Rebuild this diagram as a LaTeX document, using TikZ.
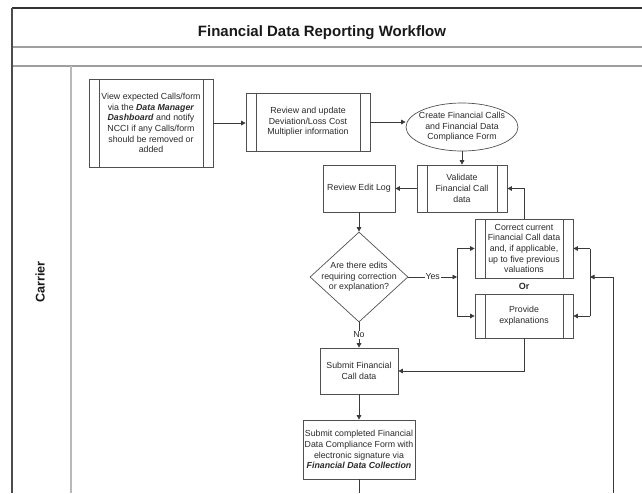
\documentclass[tikz,border=0pt]{standalone}
\usepackage{fontspec}
\setmainfont{Liberation Sans}
\usetikzlibrary{arrows.meta,shapes.geometric}
\definecolor{boxc}{HTML}{505050}
\definecolor{linec}{HTML}{3A3A3A}
\definecolor{txtc}{HTML}{2A2A2A}
\begin{document}
\begin{tikzpicture}[x=1pt,y=-1pt,
  every node/.style={font=\fontsize{8.8}{10.7}\selectfont, text=txtc},
  plain/.style={draw=boxc, line width=0.7pt, inner sep=0pt, align=center, fill=white},
  proc/.style={plain, path picture={\draw[boxc,line width=0.7pt]
     ([xshift=10pt]path picture bounding box.north west) -- ([xshift=10pt]path picture bounding box.south west)
     ([xshift=-10pt]path picture bounding box.north east) -- ([xshift=-10pt]path picture bounding box.south east);}},
  conn/.style={draw=linec, line width=0.7pt},
  arr/.style={conn, -{Triangle[length=4.5pt,width=4.5pt]}},
  lbl/.style={fill=white, inner sep=1pt},
  frameline/.style={line width=1.1pt}
]
\useasboundingbox (0,0) rectangle (642,493);

% frame
\draw[frameline, black!80] (12,8) -- (642,8);
\draw[frameline, gray!75] (12,47) -- (642,47);
\draw[frameline, gray!75] (12,66) -- (642,66);
\draw[frameline, black!70] (12,8) -- (12,493);
\draw[frameline, gray!55] (71,66) -- (71,493);

\node[font=\fontsize{15}{17}\selectfont\bfseries, text=black!90] (title) at (322,33) {Financial Data Reporting Workflow};
\node[font=\fontsize{12.6}{14}\selectfont\bfseries, text=black!90, rotate=90] (lane) at (40,282) {Carrier};

% nodes
\node[proc, minimum width=124pt, minimum height=88pt] (view) at (151,123)
  {View expected Calls/form\\via the \textbf{\textit{Data Manager}}\\\textbf{\textit{Dashboard}} and notify\\NCCI if any Calls/form\\should be removed or\\added};
\node[proc, minimum width=124pt, minimum height=58pt] (review) at (308,122)
  {Review and update\\Deviation/Loss Cost\\Multiplier information};
\node[draw=boxc, line width=0.7pt, ellipse, inner sep=0pt, minimum width=112pt, minimum height=48pt,
  label={[align=center]center:Create Financial Calls\\and Financial Data\\Compliance Form}] (create) at (462,127) {};
\node[proc, minimum width=90pt, minimum height=47pt] (validate) at (462,188.5)
  {Validate\\Financial Call\\data};
\node[plain, minimum width=72pt, minimum height=47pt] (editlog) at (359,188.5) {Review Edit Log};
\node[draw=boxc, line width=0.7pt, diamond, inner sep=0pt, minimum width=98pt, minimum height=90pt,
  label={[align=center]center:Are there edits\\requiring correction\\or explanation?}] (dia) at (359,277) {};
\node[proc, minimum width=98pt, minimum height=59pt] (correct) at (524,248.5)
  {Correct current\\Financial Call data\\and, if applicable,\\up to five previous\\valuations};
\node[font=\fontsize{9}{10}\selectfont\bfseries] (or) at (524,286) {Or};
\node[proc, minimum width=98pt, minimum height=44pt] (provide) at (524,316)
  {Provide\\explanations};
\node[plain, minimum width=78pt, minimum height=46pt] (submit) at (359,371)
  {Submit Financial\\Call data};
\node[plain, minimum width=112pt, minimum height=59pt] (complete) at (359,449.5)
  {Submit completed Financial\\Data Compliance Form with\\electronic signature via\\\textbf{\textit{Financial Data Collection}}};

\coordinate (jl) at (457,277);
\coordinate (jr) at (590,277);
\coordinate (far) at (613,493);
\coordinate (bot) at (359,493);

% connectors
\draw[arr] (view.east) -- (view.east -| review.west);
\draw[arr] (review.east) -- (review.east -| create.west);
\draw[arr] (create.south) -- (validate.north);
\draw[arr] (validate.west) -- (editlog.east);
\draw[arr] (editlog.south) -- (dia.north);
\draw[arr] (dia.east) -- node[lbl] (yes) {Yes} (jl);
\draw[conn] (jl |- correct.west) -- (jl |- provide.west);
\draw[arr] (jl |- correct.west) -- (correct.west);
\draw[arr] (jl |- provide.west) -- (provide.west);
\draw[arr] (correct.north) |- (validate.east);
\draw[conn] (jr |- correct.east) -- (jr |- provide.east);
\draw[arr] (jr |- correct.east) -- (correct.east);
\draw[arr] (jr |- provide.east) -- (provide.east);
\draw[arr] (far) |- (jr);
\draw[arr] (dia.south) -- node[lbl] (no) {No} (submit.north);
\draw[arr] (provide.south) |- (submit.east);
\draw[arr] (submit.south) -- (complete.north);
\draw[conn] (complete.south) -- (bot);
\end{tikzpicture}
\end{document}
